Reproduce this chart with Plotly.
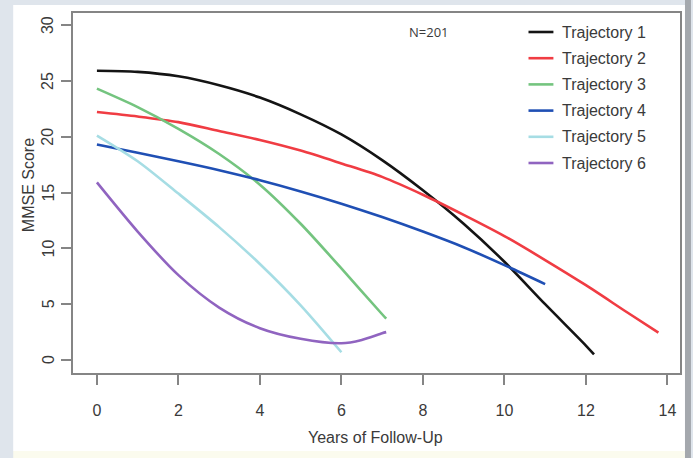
import plotly.graph_objects as go

# ---- data ----
names = ["Trajectory 1", "Trajectory 2", "Trajectory 3", "Trajectory 4", "Trajectory 5", "Trajectory 6"]
colors = ["#141414", "#f03c43", "#74c47f", "#1f4fb4", "#a6dde4", "#9064c0"]

t1_x = [0, 1, 2, 3, 4, 5, 6, 7, 8, 9, 10, 11, 12, 12.2]
t1_y = [25.9, 25.8, 25.4, 24.6, 23.5, 22.0, 20.2, 17.9, 15.2, 12.2, 8.8, 5.0, 1.3, 0.5]

t2_x = [0, 1, 2, 3, 4, 5, 6, 7, 8, 9, 10, 11, 12, 13, 13.78]
t2_y = [22.2, 21.8, 21.3, 20.5, 19.7, 18.75, 17.6, 16.4, 14.8, 13.0, 11.1, 8.95, 6.7, 4.3, 2.45]

t3_x = [0, 1, 2, 3, 4, 5, 6, 7, 7.1]
t3_y = [24.3, 22.65, 20.7, 18.45, 15.7, 12.2, 8.2, 4.1, 3.7]

t4_x = [0, 1, 2, 3, 4, 5, 6, 7, 8, 9, 10, 11]
t4_y = [19.3, 18.55, 17.8, 17.0, 16.1, 15.1, 14.0, 12.8, 11.5, 10.1, 8.5, 6.8]

t5_x = [0, 1, 2, 3, 4, 5, 6]
t5_y = [20.1, 17.8, 14.9, 11.9, 8.6, 4.9, 0.7]

t6_x = [0, 1, 2, 3, 4, 5, 6, 6.5, 7, 7.1]
t6_y = [15.9, 11.5, 7.6, 4.7, 2.85, 1.9, 1.5, 1.8, 2.4, 2.5]

series_x = [t1_x, t2_x, t3_x, t4_x, t5_x, t6_x]
series_y = [t1_y, t2_y, t3_y, t4_y, t5_y, t6_y]

x_ticks = [0, 2, 4, 6, 8, 10, 12, 14]
y_ticks = [0, 5, 10, 15, 20, 25, 30]
x_title = "Years of Follow-Up"
y_title = "MMSE Score"
n_label = "N=201"

# ---- layout geometry (pixels) ----
W, H = 693, 458
L, R, T, B = 73, 11, 13, 85
PW, PH = W - L - R, H - T - B

def px(x):
    return (x - L) / PW

def py(y):
    return (H - B - y) / PH

FONT = "Liberation Sans, Arial, sans-serif"
TXT = "#3a3a3a"
AX = "#858585"

fig = go.Figure()
for nm, c, xs, ys in zip(names, colors, series_x, series_y):
    fig.add_trace(go.Scatter(x=xs, y=ys, mode="lines", name=nm,
                             line=dict(color=c, width=2.6, shape="spline", smoothing=0.8),
                             showlegend=False, hoverinfo="x+y+name"))

shapes = [
    # outer white panel
    dict(type="rect", xref="paper", yref="paper", x0=px(13), x1=px(687), y0=py(451), y1=py(5),
         fillcolor="white", line=dict(width=0), layer="below"),
    dict(type="rect", xref="paper", yref="paper", x0=px(13), x1=px(687), y0=py(458), y1=py(451),
         fillcolor="#fbfbee", line=dict(width=0), layer="below"),
    dict(type="rect", xref="paper", yref="paper", x0=px(687), x1=px(693), y0=py(458), y1=py(0),
         fillcolor="#a4a8ad", line=dict(width=0), layer="below"),
]
annotations = []

# manual legend
row_y = [32 + 26.2 * i for i in range(len(names))]
for nm, c, ry in zip(names, colors, row_y):
    shapes.append(dict(type="line", xref="paper", yref="paper", x0=px(530), x1=px(555),
                       y0=py(ry), y1=py(ry), line=dict(color=c, width=2.6)))
    annotations.append(dict(xref="paper", yref="paper", x=px(562), y=py(ry), text=nm,
                            showarrow=False, xanchor="left", yanchor="middle",
                            font=dict(family=FONT, size=16, color=TXT)))

# rotated y tick labels (R style)
for v in y_ticks:
    annotations.append(dict(xref="paper", yref="y", x=px(48), y=v, text=str(v),
                            showarrow=False, xanchor="center", yanchor="middle", textangle=-90,
                            font=dict(family=FONT, size=16, color=TXT)))

annotations.append(dict(xref="paper", yref="paper", x=px(430), y=py(32), text=n_label,
                        showarrow=False, xanchor="center", yanchor="middle",
                        font=dict(family="Open Sans, sans-serif", size=13, color=TXT)))
annotations.append(dict(xref="paper", yref="paper", x=px(376), y=py(437), text=x_title,
                        showarrow=False, xanchor="center", yanchor="middle",
                        font=dict(family=FONT, size=16, color=TXT)))
annotations.append(dict(xref="paper", yref="paper", x=px(28), y=py(185), text=y_title,
                        showarrow=False, xanchor="center", yanchor="middle", textangle=-90,
                        font=dict(family=FONT, size=16, color=TXT)))

fig.update_layout(
    width=W, height=H,
    margin=dict(l=L, r=R, t=T, b=B),
    paper_bgcolor="#dfe5ec",
    plot_bgcolor="white",
    shapes=shapes,
    annotations=annotations,
    xaxis=dict(range=[-0.587, 14.31], tickvals=x_ticks, ticktext=[str(v) for v in x_ticks],
               showgrid=False, zeroline=False, showline=True, mirror=True,
               linecolor=AX, linewidth=1.5, ticks="outside", ticklen=10, tickwidth=1.5,
               tickcolor=AX, ticklabelstandoff=12,
               tickfont=dict(family=FONT, size=16, color=TXT)),
    yaxis=dict(range=[-1.16, 31.07], tickvals=y_ticks, showticklabels=False,
               showgrid=False, zeroline=False, showline=True, mirror=True,
               linecolor=AX, linewidth=1.5, ticks="outside", ticklen=10, tickwidth=1.5,
               tickcolor=AX),
)

fig.write_html("out.html", config={"displayModeBar": False},
               post_script="document.body.style.margin='0';document.body.style.overflow='hidden';")
